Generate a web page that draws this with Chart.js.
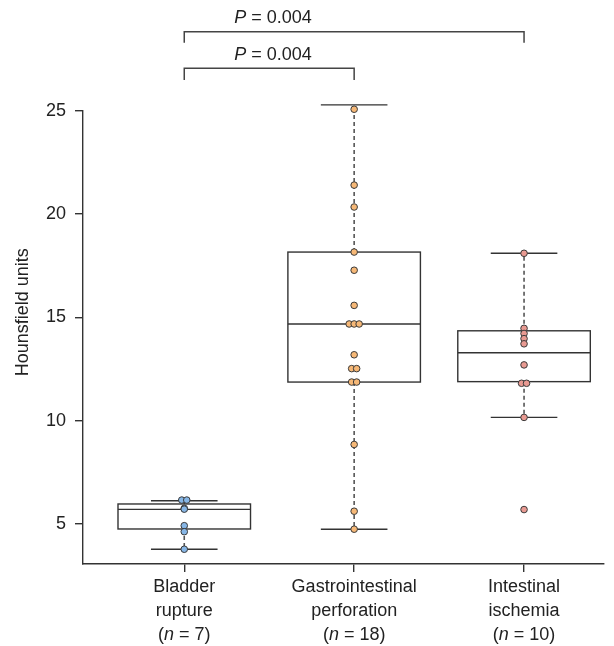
<!DOCTYPE html>
<html><head><meta charset="utf-8">
<script src="https://cdn.jsdelivr.net/npm/chart.js@4.4.1/dist/chart.umd.min.js"></script>
<style>html,body{margin:0;padding:0;background:#fff;}</style>
</head><body>
<canvas id="c" width="614" height="646"></canvas>
<script>
// ---- data ----
const categories = ['Bladder rupture', 'Gastrointestinal perforation', 'Intestinal ischemia'];
const labelLines = [['Bladder', 'rupture'], ['Gastrointestinal', 'perforation'], ['Intestinal', 'ischemia']];
const groupN = [7, 18, 10];
const yTitle = 'Hounsfield units';
const bladderValues = [6.16, 6.16, 5.76, 5.72, 4.92, 4.63, 3.78];
const giValues = [25.28, 25.07, 21.40, 20.34, 18.16, 17.28, 15.58, 14.68, 14.68, 14.68, 13.19, 12.52, 12.52, 11.87, 11.87, 8.85, 5.62, 4.75];
const ischemiaValues = [18.10, 14.47, 14.22, 13.97, 13.72, 12.70, 11.81, 11.81, 10.16, 5.70];
// box stats: [lower whisker, Q1, median, Q3, upper whisker]
const bladderBox = [3.78, 4.76, 5.71, 5.97, 6.13];
const giBox = [4.75, 11.87, 14.68, 18.16, 25.28];
const ischemiaBox = [10.16, 11.89, 13.29, 14.35, 18.10];
const yTicks = [5, 10, 15, 20, 25];
const pLabels = ['0.004', '0.004'];
const comparisons = [[0, 1], [0, 2]];

const groupValues = [bladderValues, giValues, ischemiaValues];
const groupBoxes = [bladderBox, giBox, ischemiaBox];
const dotColors = ['#86b6e6', '#f6b877', '#e99a92'];

const X_MIN = 0.404, X_MAX = 3.4706, Y_MIN = 3.066, Y_MAX = 25;
const AREA_LEFT = 83, AREA_RIGHT = 604, AREA_TOP = 110.7, AREA_BOTTOM = 564;
const unitsPerPx = (X_MAX - X_MIN) / (AREA_RIGHT - AREA_LEFT);
const FONT = '"Liberation Sans", Arial, Helvetica, sans-serif';
const INK = '#222';
const LINE = '#333';

function swarmOffsets(values, stepPx) {
  const offs = new Array(values.length).fill(0);
  const used = new Array(values.length).fill(false);
  for (let i = 0; i < values.length; i++) {
    if (used[i]) continue;
    const grp = [i];
    for (let j = i + 1; j < values.length; j++) {
      if (!used[j] && Math.abs(values[j] - values[i]) < 0.02) grp.push(j);
    }
    grp.forEach((k, idx) => { used[k] = true; offs[k] = (idx - (grp.length - 1) / 2) * stepPx * unitsPerPx; });
  }
  return offs;
}

const datasets = groupValues.map((vals, i) => {
  const offs = swarmOffsets(vals, 5);
  return {
    type: 'scatter',
    label: categories[i],
    data: vals.map((v, j) => ({ x: i + 1 + offs[j], y: v })),
    pointRadius: 3.3,
    pointBorderWidth: 1,
    pointBorderColor: '#3a3a3a',
    pointBackgroundColor: dotColors[i],
    showLine: false,
    clip: false
  };
});

const boxPlugin = {
  id: 'boxes',
  beforeDatasetsDraw(chart) {
    const ctx = chart.ctx, xs = chart.scales.x, ys = chart.scales.y;
    groupBoxes.forEach((b, i) => {
      const cx = xs.getPixelForValue(i + 1);
      const hw = xs.getPixelForValue(i + 1 + 0.39) - cx;
      const cw = xs.getPixelForValue(i + 1 + 0.196) - cx;
      const [lo, q1, med, q3, hi] = b.map(v => ys.getPixelForValue(v));
      ctx.save();
      ctx.strokeStyle = '#555'; ctx.lineWidth = 1.6; ctx.setLineDash([4, 3]);
      ctx.beginPath(); ctx.moveTo(cx, q3); ctx.lineTo(cx, hi); ctx.moveTo(cx, q1); ctx.lineTo(cx, lo); ctx.stroke();
      ctx.setLineDash([]);
      ctx.strokeStyle = LINE; ctx.lineWidth = 1.4;
      ctx.beginPath(); ctx.moveTo(cx - cw, hi); ctx.lineTo(cx + cw, hi); ctx.moveTo(cx - cw, lo); ctx.lineTo(cx + cw, lo); ctx.stroke();
      ctx.fillStyle = '#fff';
      ctx.fillRect(cx - hw, q3, 2 * hw, q1 - q3);
      ctx.strokeRect(cx - hw, q3, 2 * hw, q1 - q3);
      ctx.beginPath(); ctx.moveTo(cx - hw, med); ctx.lineTo(cx + hw, med); ctx.stroke();
      ctx.restore();
    });
  },
  afterDraw(chart) {
    const ctx = chart.ctx, xs = chart.scales.x, ys = chart.scales.y;
    ctx.save();
    ctx.fillStyle = INK;
    ctx.textBaseline = 'middle';
    // y axis title
    ctx.save();
    ctx.translate(23, ys.getPixelForValue(15.25));
    ctx.rotate(-Math.PI / 2);
    ctx.font = '18px ' + FONT; ctx.textAlign = 'center';
    ctx.fillText(yTitle, 0, 0);
    ctx.restore();
    // x category labels
    labelLines.forEach((lines, i) => {
      const cx = xs.getPixelForValue(i + 1);
      ctx.font = '18px ' + FONT;
      ctx.textAlign = 'center';
      ctx.fillText(lines[0], cx, 587);
      ctx.fillText(lines[1], cx, 611);
      const a = '(', b = 'n', c = ' = ' + groupN[i] + ')';
      ctx.font = '18px ' + FONT; const wa = ctx.measureText(a).width, wc = ctx.measureText(c).width;
      ctx.font = 'italic 18px ' + FONT; const wb = ctx.measureText(b).width;
      let x0 = cx - (wa + wb + wc) / 2;
      ctx.textAlign = 'left';
      ctx.font = '18px ' + FONT; ctx.fillText(a, x0, 635);
      ctx.font = 'italic 18px ' + FONT; ctx.fillText(b, x0 + wa, 635);
      ctx.font = '18px ' + FONT; ctx.fillText(c, x0 + wa + wb, 635);
    });
    // significance brackets
    const levels = [{bar: 27.05, leg: 26.49, text: 27.7}, {bar: 28.82, leg: 28.29, text: 29.47}];
    comparisons.forEach(([f, t], k) => {
      const L = levels[k];
      const x1 = xs.getPixelForValue(f + 1), x2 = xs.getPixelForValue(t + 1);
      const yb = ys.getPixelForValue(L.bar), yl = ys.getPixelForValue(L.leg);
      ctx.strokeStyle = '#444'; ctx.lineWidth = 1.5;
      ctx.beginPath(); ctx.moveTo(x1, yl); ctx.lineTo(x1, yb); ctx.lineTo(x2, yb); ctx.lineTo(x2, yl); ctx.stroke();
      const tx = xs.getPixelForValue(1.522), ty = ys.getPixelForValue(L.text);
      const p1 = 'P', p2 = ' = ' + pLabels[k];
      ctx.font = 'italic 18px ' + FONT; const w1 = ctx.measureText(p1).width;
      ctx.font = '18px ' + FONT; const w2 = ctx.measureText(p2).width;
      const sx = tx - (w1 + w2) / 2;
      ctx.textAlign = 'left';
      ctx.font = 'italic 18px ' + FONT; ctx.fillText(p1, sx, ty);
      ctx.font = '18px ' + FONT; ctx.fillText(p2, sx + w1, ty);
    });
    ctx.restore();
  }
};

new Chart(document.getElementById('c'), {
  type: 'scatter',
  data: { datasets },
  plugins: [boxPlugin],
  options: {
    responsive: false,
    animation: false,
    devicePixelRatio: 1,
    layout: { padding: { top: AREA_TOP, right: 614 - AREA_RIGHT, left: 0, bottom: 0 } },
    plugins: { legend: { display: false }, tooltip: { enabled: false } },
    scales: {
      x: {
        type: 'linear', min: X_MIN, max: X_MAX,
        afterBuildTicks: s => { s.ticks = [1, 2, 3].map(v => ({ value: v })); },
        afterFit: s => { s.height = 646 - AREA_BOTTOM; },
        grid: { drawOnChartArea: false, drawTicks: true, tickLength: 8, color: LINE, lineWidth: 1.4 },
        border: { display: true, color: LINE, width: 1.4 },
        ticks: { display: false }
      },
      y: {
        type: 'linear', min: Y_MIN, max: Y_MAX,
        afterBuildTicks: s => { s.ticks = yTicks.map(v => ({ value: v })); },
        afterFit: s => { s.width = AREA_LEFT; },
        grid: { drawOnChartArea: false, drawTicks: true, tickLength: 8, color: LINE, lineWidth: 1.4 },
        border: { display: true, color: LINE, width: 1.4 },
        ticks: { color: INK, font: { family: FONT, size: 18 }, padding: 9 },
        title: { display: false }
      }
    }
  }
});
</script>
</body></html>
